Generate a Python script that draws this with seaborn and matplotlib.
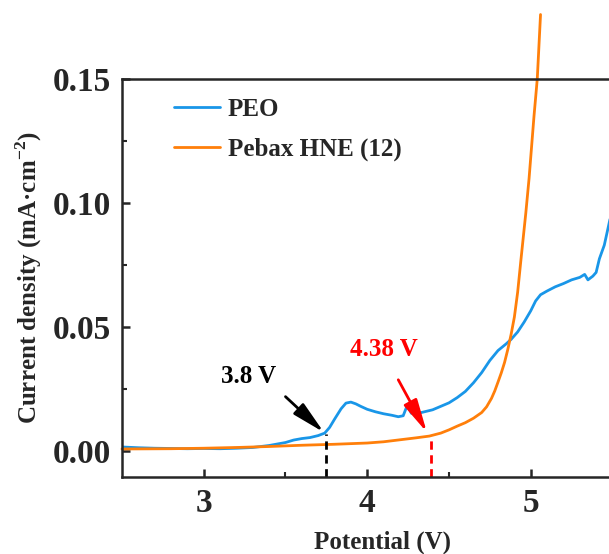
import numpy as np
import pandas as pd
import matplotlib
matplotlib.use("Agg")
import matplotlib.pyplot as plt
import seaborn as sns

# ---- data ----
peo_v = [2.50, 2.60, 2.70, 2.80, 2.90, 3.00, 3.10, 3.20, 3.30, 3.40, 3.50, 3.55,
         3.60, 3.65, 3.70, 3.74, 3.77, 3.80, 3.84, 3.87, 3.90, 3.93, 3.96, 4.00,
         4.05, 4.10, 4.15, 4.19, 4.22, 4.24, 4.25, 4.27, 4.30, 4.35, 4.40, 4.45,
         4.50, 4.55, 4.60, 4.65, 4.70, 4.75, 4.80, 4.85, 4.88, 4.92, 4.96, 5.00,
         5.03, 5.06, 5.10, 5.15, 5.20, 5.25, 5.30, 5.33, 5.35, 5.38, 5.40, 5.42,
         5.45, 5.48, 5.50]
peo_i = [0.0016, 0.0013, 0.0011, 0.0010, 0.0009, 0.0010, 0.0009, 0.0011, 0.0014, 0.0022, 0.0034, 0.0044,
         0.0050, 0.0054, 0.0062, 0.0072, 0.0095, 0.0128, 0.0170, 0.0193, 0.0197, 0.0190, 0.0180, 0.0168,
         0.0158, 0.0150, 0.0144, 0.0138, 0.0142, 0.0176, 0.0178, 0.0152, 0.0150, 0.0158, 0.0166, 0.0180,
         0.0194, 0.0215, 0.0240, 0.0275, 0.0316, 0.0365, 0.0405, 0.0432, 0.0450, 0.0480, 0.0520, 0.0565,
         0.0605, 0.0630, 0.0645, 0.0662, 0.0675, 0.0690, 0.0700, 0.0712, 0.0690, 0.0705, 0.0720, 0.0775,
         0.0830, 0.0920, 0.0980]

pebax_v = [2.50, 2.80, 3.00, 3.20, 3.40, 3.60, 3.80, 4.00, 4.10, 4.20, 4.30, 4.38,
           4.45, 4.50, 4.55, 4.60, 4.65, 4.70, 4.73, 4.76, 4.78, 4.80, 4.82, 4.84,
           4.86, 4.88, 4.90, 4.92, 4.94, 4.97, 4.99, 5.02, 5.04, 5.06]
pebax_i = [0.0008, 0.0009, 0.0011, 0.0014, 0.0018, 0.0023, 0.0027, 0.0032, 0.0037, 0.0045, 0.0053, 0.0060,
           0.0072, 0.0085, 0.0100, 0.0114, 0.0132, 0.0155, 0.0178, 0.0212, 0.0242, 0.0278, 0.0315, 0.0357,
           0.0410, 0.0470, 0.0540, 0.0640, 0.0770, 0.0960, 0.1100, 0.1350, 0.1500, 0.1760]

series_names = ["PEO", "Pebax HNE (12)"]
colors = ["#1996E8", "#FF7F0A"]

x_ticks = [3, 4, 5]
y_ticks = [0.00, 0.05, 0.10, 0.15]
y_tick_labels = ["0.00", "0.05", "0.10", "0.15"]

onset_peo = 3.75
onset_peo_i = 0.0070
onset_pebax = 4.39
onset_pebax_i = 0.0060

df = pd.concat([
    pd.DataFrame({"Potential": peo_v, "Current": peo_i, "Sample": series_names[0]}),
    pd.DataFrame({"Potential": pebax_v, "Current": pebax_i, "Sample": series_names[1]}),
], ignore_index=True)

# ---- style ----
sns.set_style("ticks")
plt.rcParams["font.family"] = ["Liberation Serif", "DejaVu Serif"]
plt.rcParams["font.weight"] = "bold"
plt.rcParams["mathtext.fontset"] = "custom"
plt.rcParams["mathtext.rm"] = "Liberation Serif:bold"
plt.rcParams["mathtext.bf"] = "Liberation Serif:bold"

fig = plt.figure(figsize=(6.09, 5.54), dpi=100)
ax = fig.add_axes([0.2003, 0.139, 0.8054, 0.7184])

sns.lineplot(data=df, x="Potential", y="Current", hue="Sample", palette=colors,
             hue_order=series_names, estimator=None, sort=False, lw=2.0, ax=ax)
for line in ax.get_lines():
    if line.get_color().lower() == colors[1].lower():
        line.set_clip_on(False)

ax.set_xlim(2.5, 5.5)
ax.set_ylim(-0.0105, 0.15)
ax.set_xticks(x_ticks)
ax.set_xticklabels([str(t) for t in x_ticks])
ax.set_yticks(y_ticks)
ax.set_yticklabels(y_tick_labels)
ax.set_xticks([3.5, 4.5], minor=True)
ax.set_yticks([0.025, 0.075, 0.125], minor=True)
ax.tick_params(which="major", direction="in", length=6, width=1.8, labelsize=24, pad=8)
ax.tick_params(which="minor", direction="in", length=3.5, width=1.5)
for lab in ax.get_xticklabels() + ax.get_yticklabels():
    lab.set_fontweight("bold")

for side in ["left", "bottom", "top"]:
    ax.spines[side].set_visible(True)
    ax.spines[side].set_linewidth(1.8)
ax.spines["right"].set_visible(False)

ax.set_xlabel("Potential (V)", fontsize=18, fontweight="bold")
ax.set_ylabel("Current density (mA·cm$^{-2}$)", fontsize=18, fontweight="bold")
ax.xaxis.set_label_coords(0.532, -0.135)
ax.yaxis.set_label_coords(-0.158, 0.5)

# onset markers
ymin = ax.get_ylim()[0]
ax.plot([onset_peo, onset_peo], [ymin, onset_peo_i], ls=(0, (3, 2)), color="black", lw=2)
ax.plot([onset_pebax, onset_pebax], [ymin, onset_pebax_i], ls=(0, (3, 2)), color="red", lw=2)

arrow_style = "-|>,head_length=1.0,head_width=0.22"
ax.annotate("", xy=(3.735, 0.0075), xytext=(3.50, 0.0219),
            arrowprops=dict(arrowstyle=arrow_style, color="black", lw=2, mutation_scale=20,
                            shrinkA=0, shrinkB=0))
ax.text(3.275, 0.030, "3.8 V", fontsize=18, fontweight="bold", color="black",
        ha="center", va="center")
ax.annotate("", xy=(4.365, 0.0075), xytext=(4.19, 0.0287),
            arrowprops=dict(arrowstyle=arrow_style, color="red", lw=2, mutation_scale=20,
                            shrinkA=0, shrinkB=0))
ax.text(4.10, 0.041, "4.38 V", fontsize=18, fontweight="bold", color="red",
        ha="center", va="center")

leg = ax.legend(loc="upper left", bbox_to_anchor=(0.06, 1.01), frameon=False,
                prop={"size": 18, "weight": "bold"}, handlelength=1.85,
                handletextpad=0.3, labelspacing=0.68)
for h in leg.get_lines():
    h.set_linewidth(2.0)

fig.savefig("out.png", dpi=100)
